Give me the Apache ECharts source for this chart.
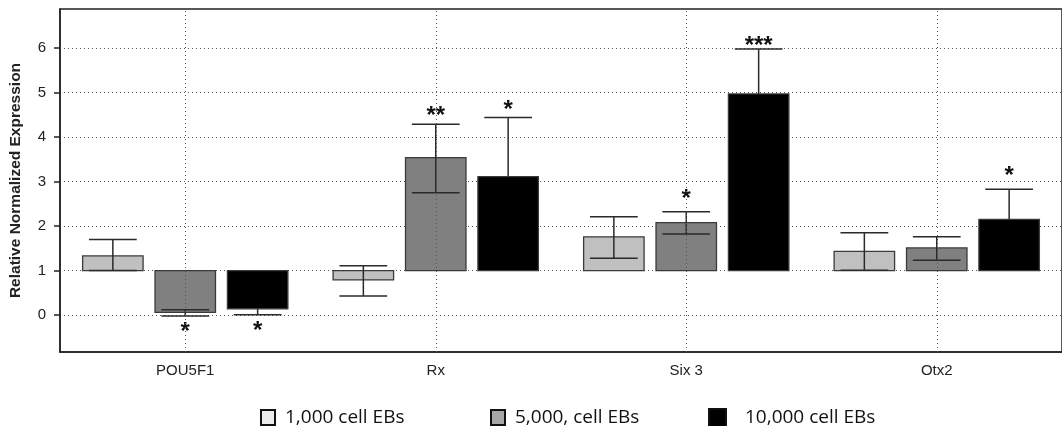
<!DOCTYPE html>
<html><head><meta charset="utf-8">
<script src="https://cdn.jsdelivr.net/npm/echarts@6/dist/echarts.min.js"></script>
<style>html,body{margin:0;padding:0;background:#fff}#c{width:1062px;height:426px}</style>
</head><body><div id="c"></div>
<script>
const categories = ['POU5F1', 'Rx', 'Six 3', 'Otx2'];
const seriesNames = ['1,000 cell EBs', '5,000, cell EBs', '10,000 cell EBs'];
const baseline = 1;
const val1000 = [1.33, 0.79, 1.76, 1.43];
const lo1000  = [1.00, 0.43, 1.28, 1.01];
const hi1000  = [1.70, 1.11, 2.21, 1.85];
const val5000 = [0.06, 3.54, 2.08, 1.51];
const lo5000  = [-0.02, 2.75, 1.82, 1.23];
const hi5000  = [0.12, 4.29, 2.32, 1.76];
const val10000 = [0.14, 3.11, 4.97, 2.15];
const lo10000  = [0.01, 1.78, 3.96, 1.47];
const hi10000  = [0.27, 4.44, 5.98, 2.83];
const sig1000  = ['', '', '', ''];
const sig5000  = ['*', '**', '*', ''];
const sig10000 = ['*', '*', '***', '*'];
const sigAt1000  = [null, null, null, null];
const sigAt5000  = [-0.27, 4.59, 2.72, null];
const sigAt10000 = [-0.26, 4.72, 6.16, 3.22];
const yTicks = [0, 1, 2, 3, 4, 5, 6];
const yMin = -0.83, yMax = 6.88;

const groups = [
  {vals: val1000, lo: lo1000, hi: hi1000, sig: sig1000, sigAt: sigAt1000},
  {vals: val5000, lo: lo5000, hi: hi5000, sig: sig5000, sigAt: sigAt5000},
  {vals: val10000, lo: lo10000, hi: hi10000, sig: sig10000, sigAt: sigAt10000}
];
const fills = ['#c0c0c0', '#808080', '#000000'];
const legendFills = ['#ebebeb', '#a6a6a6', '#000000'];

function makeRender(k) {
  return function (params, api) {
    const ci = api.value(0);
    const v = api.value(1), lo = api.value(2), hi = api.value(3), sp = api.value(4);
    const band = api.size([1, 0])[0];
    const bw = band * 0.2414, off = (k - 1) * band * 0.289;
    const c = api.coord([ci, baseline]);
    const x = c[0] + off;
    const yb = c[1];
    const yv = api.coord([ci, v])[1];
    const ylo = api.coord([ci, lo])[1], yhi = api.coord([ci, hi])[1];
    const cap = bw * 0.79;
    const lineStyle = {stroke: '#2a2a2a', lineWidth: 1.5};
    const rect = {type: 'rect', shape: {x: x - bw / 2, y: Math.min(yb, yv), width: bw, height: Math.abs(yv - yb)},
      style: {fill: fills[k], stroke: '#3a3a3a', lineWidth: 1.3}};
    const errs = [
      {type: 'line', shape: {x1: x, y1: ylo, x2: x, y2: yhi}, style: lineStyle},
      {type: 'line', shape: {x1: x - cap / 2, y1: yhi, x2: x + cap / 2, y2: yhi}, style: lineStyle},
      {type: 'line', shape: {x1: x - cap / 2, y1: ylo, x2: x + cap / 2, y2: ylo}, style: lineStyle}
    ];
    const children = k === 2 ? errs.concat([rect]) : [rect].concat(errs);
    const s = groups[k].sig[params.dataIndex];
    if (s && !isNaN(sp)) {
      const ys = api.coord([ci, sp])[1];
      children.push({type: 'text', style: {text: s, x: x, y: ys + 5, fill: '#111',
        font: 'bold 24px Arial, "Liberation Sans"', align: 'center', verticalAlign: 'middle'}});
    }
    return {type: 'group', children: children};
  };
}

const series = groups.map((g, k) => {
  const s = {
    type: 'custom',
    name: seriesNames[k],
    renderItem: makeRender(k),
    itemStyle: {color: legendFills[k]},
    encode: {x: 0, y: 1},
    clip: false,
    data: categories.map((c, i) => [i, g.vals[i], g.lo[i], g.hi[i], g.sigAt[i] == null ? NaN : g.sigAt[i]]),
    z: 3
  };
  if (k === 0) {
    s.markLine = {
      silent: true, symbol: ['none', 'none'], label: {show: false}, animation: false,
      lineStyle: {type: [1, 3], color: '#555', width: 1},
      data: categories.map(c => ({xAxis: c}))
    };
  }
  return s;
});

const legendLeft = [255, 485, 703];
const legendPad = [5, 5, 14];
const legends = seriesNames.map((n, k) => ({
  left: legendLeft[k], top: 403, itemWidth: k === 2 ? 17 : 14, itemHeight: k === 2 ? 18 : 15,
  data: [{name: n, icon: 'rect', itemStyle: {color: legendFills[k], borderColor: '#111', borderWidth: 2}}],
  textStyle: {fontFamily: '"Open Sans"', fontSize: 19, color: '#111', padding: [0, 0, 0, legendPad[k]]},
  selectedMode: false
}));

const chart = echarts.init(document.getElementById('c'), null, {renderer: 'canvas'});
chart.setOption({
  animation: false,
  backgroundColor: '#fff',
  grid: {left: 60, top: 9, right: -9, bottom: 74, show: true, borderColor: '#222', borderWidth: 1.5, backgroundColor: 'transparent'},
  legend: legends,
  xAxis: {
    type: 'category', data: categories, boundaryGap: true,
    axisLine: {onZero: false, lineStyle: {color: '#222', width: 1.5}},
    axisTick: {alignWithLabel: true, length: 6, lineStyle: {color: '#222', width: 1.5}},
    axisLabel: {fontFamily: 'Arial, "Liberation Sans"', fontSize: 15, color: '#222', margin: 11},
    splitLine: {show: false}
  },
  yAxis: {
    type: 'value', min: yMin, max: yMax, splitNumber: 7,
    name: 'Relative Normalized Expression', nameLocation: 'middle', nameGap: 36,
    nameTextStyle: {fontFamily: 'Arial, "Liberation Sans"', fontSize: 15.5, fontWeight: 'bold', color: '#222'},
    axisLine: {show: true, lineStyle: {color: '#222', width: 1.5}},
    axisTick: {show: true, length: 6, lineStyle: {color: '#222', width: 1.5}, customValues: yTicks},
    axisLabel: {fontFamily: 'Arial, "Liberation Sans"', fontSize: 15, color: '#222', margin: 14, customValues: yTicks},
    splitLine: {show: true, lineStyle: {type: [1, 3], color: '#555', width: 1}}
  },
  series: series
});
</script></body></html>
